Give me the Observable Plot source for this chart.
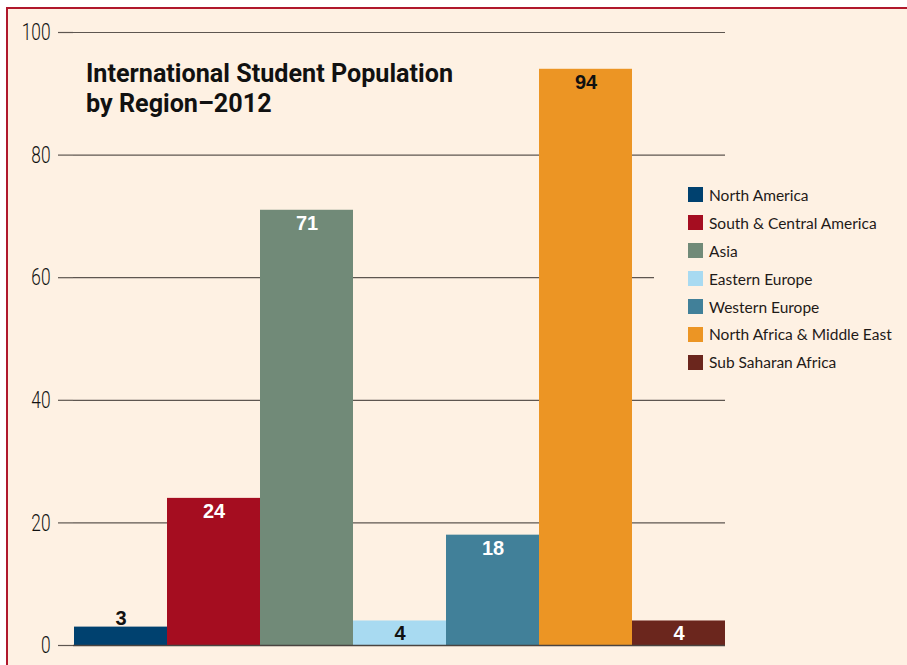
<!DOCTYPE html>
<html>
<head>
<meta charset="utf-8">
<script src="https://cdn.jsdelivr.net/npm/d3@7"></script>
<script src="https://cdn.jsdelivr.net/npm/@observablehq/plot@0.6"></script>
<style>
  html, body { margin: 0; padding: 0; background: #fff; overflow: hidden; width: 907px; height: 665px; }
  #frame { position: absolute; left: 6px; top: 7px; width: 1000px; height: 800px; border: 2px solid #b0182c; background: #fef1e3; }
  #chart { position: absolute; left: 0; top: 0; }
  #title { position: absolute; left: 86px; top: 59px; font-family: Roboto, "Noto Sans", sans-serif; font-weight: bold; font-size: 25px; line-height: 30px; color: #111; }
  #title div { white-space: nowrap; transform-origin: left center; display: inline-block; }
  #legend { position: absolute; left: 654px; top: 181px; width: 250px; padding: 0 0 0 34px; box-sizing: border-box; background: #fef1e3; font-family: Lato, "Open Sans", sans-serif; font-size: 15.5px; color: #1e1a18; }
  #legend .row { height: 27.9px; display: flex; align-items: center; white-space: nowrap; }
  #legend .sw { width: 15px; height: 15px; margin-right: 6px; flex: none; }
</style>
</head>
<body>
<div id="frame"></div>
<div id="chart"></div>
<div id="title"></div>
<div id="legend"></div>
<script>
const regions = ["North America", "South & Central America", "Asia", "Eastern Europe", "Western Europe", "North Africa & Middle East", "Sub Saharan Africa"];
const values = [3, 24, 71, 4, 18, 94, 4];
const colors = ["#00416f", "#a50d20", "#718a78", "#a8daf1", "#418099", "#ec9524", "#6b261d"];
const yTicks = [0, 20, 40, 60, 80, 100];
const titleLines = ["International Student Population", "by Region\u20132012"];
const darkLabelRegions = ["North America", "Eastern Europe", "North Africa & Middle East"];

const rows = regions.map((r, i) => ({region: r, value: values[i]}));
const dark = new Set(darkLabelRegions);
const labelFont = "'Liberation Sans', Arial, sans-serif";

const chart = Plot.plot({
  width: 907,
  height: 665,
  marginTop: 32,
  marginBottom: 20,
  marginLeft: 73,
  marginRight: 182,
  style: {background: "transparent", overflow: "visible"},
  x: {domain: regions, padding: 0, axis: null},
  y: {domain: [0, 100], axis: null},
  color: {domain: regions, range: colors},
  marks: [
    Plot.gridY(yTicks, {stroke: "#5e5650", strokeOpacity: 1, strokeWidth: 1.2}),
    Plot.axisY({ticks: yTicks, tickSize: 15, tickPadding: 8, stroke: "#5e5650", strokeWidth: 1.2, label: null,
      fontFamily: "Roboto, sans-serif", fontWeight: 300, fontSize: 24, fill: "#111"}),
    Plot.barY(rows, {x: "region", y: "value", fill: "region"}),
    Plot.ruleY([0], {stroke: "#4a4440", strokeWidth: 1.6}),
    Plot.text(rows.filter(d => d.value >= 4), {x: "region", y: "value", text: d => String(d.value), dy: 13,
      fill: d => dark.has(d.region) ? "#111" : "#fff", fontWeight: "bold", fontSize: 20, fontFamily: labelFont}),
    Plot.text(rows.filter(d => d.value < 4), {x: "region", y: "value", text: d => String(d.value), dy: -9,
      fill: "#111", fontWeight: "bold", fontSize: 20, fontFamily: labelFont})
  ]
});
document.getElementById("chart").appendChild(chart);

// condense the tick labels horizontally (the original uses a condensed face)
d3.select(chart).selectAll('[aria-label="y-axis tick label"] text').each(function () {
  const w = this.getComputedTextLength();
  this.setAttribute("textLength", (w * 0.72).toFixed(1));
  this.setAttribute("lengthAdjust", "spacingAndGlyphs");
});

const titleEl = document.getElementById("title");
titleLines.forEach(line => {
  const d = document.createElement("div");
  d.textContent = line;
  titleEl.appendChild(d);
  titleEl.appendChild(document.createElement("br"));
});
// condense title to the original width
const firstW = titleEl.querySelector("div").getBoundingClientRect().width;
const k = 367 / firstW;
titleEl.querySelectorAll("div").forEach(d => { d.style.transform = `scaleX(${k})`; });

const legend = document.getElementById("legend");
regions.forEach((r, i) => {
  const row = document.createElement("div");
  row.className = "row";
  const sw = document.createElement("span");
  sw.className = "sw";
  sw.style.background = colors[i];
  const t = document.createElement("span");
  t.textContent = r;
  row.appendChild(sw);
  row.appendChild(t);
  legend.appendChild(row);
});
</script>
</body>
</html>
